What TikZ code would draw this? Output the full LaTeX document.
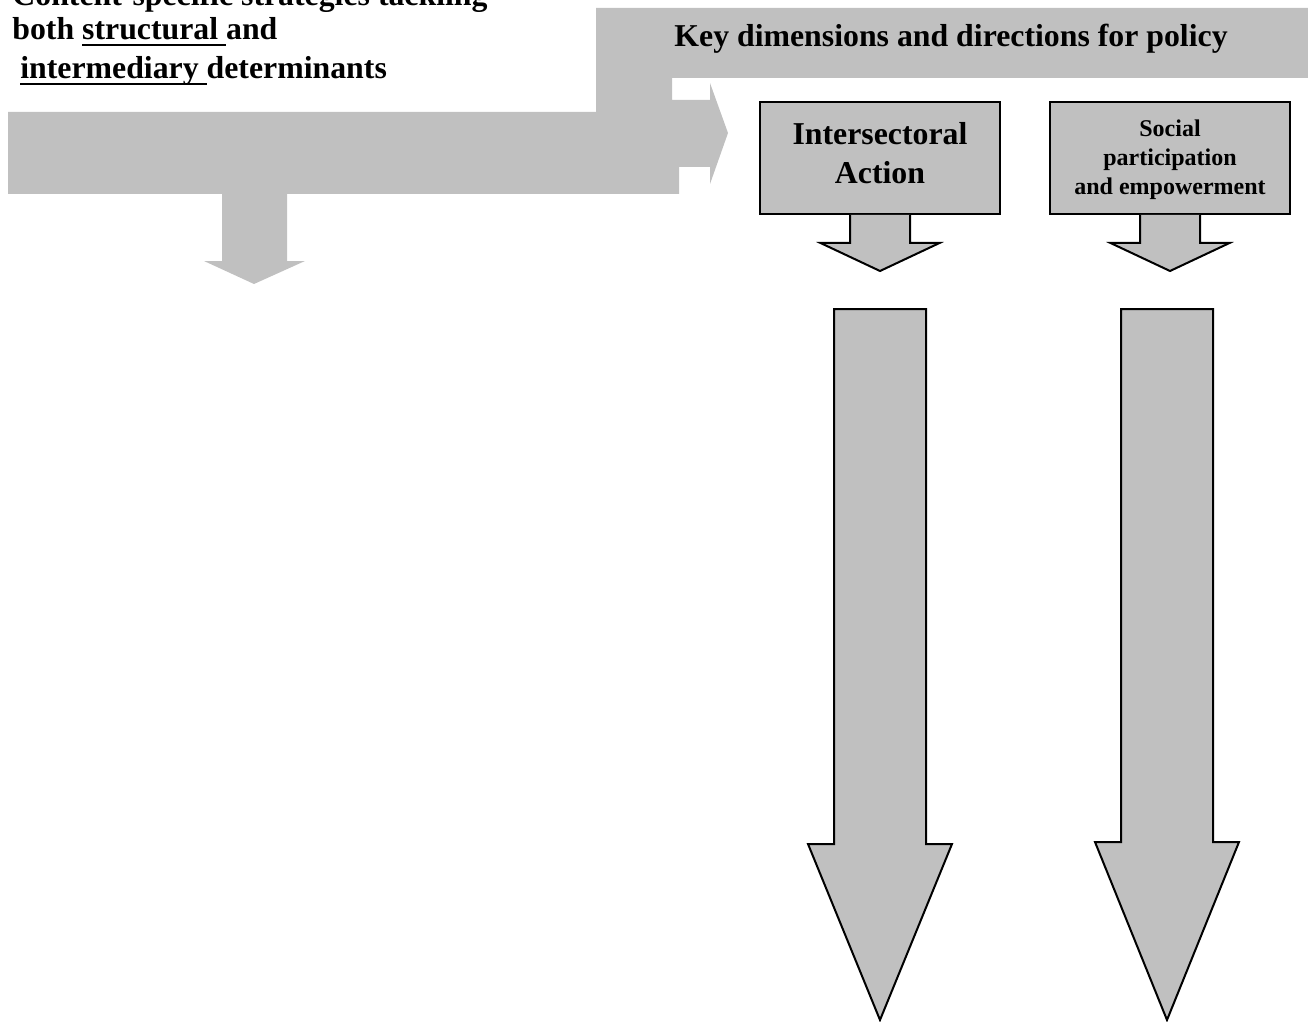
\documentclass[tikz,border=0pt]{standalone}
\usepackage{fontspec}
\setmainfont{Liberation Serif}
\usetikzlibrary{positioning}
\definecolor{panelgray}{RGB}{192,192,192}
\newcommand{\ulword}[1]{\setbox0\hbox{#1}\rlap{\rule[-3.2pt]{\wd0}{1pt}}\box0}
\tikzset{dim box/.style={rectangle,draw,fill=panelgray,line width=1pt,minimum width=120pt,minimum height=56pt,inner sep=0pt},
  big label/.style={font=\fontsize{15.9}{19.5}\selectfont\bfseries,inner sep=0pt,align=center},
  small label/.style={font=\fontsize{12}{14.5}\selectfont\bfseries,inner sep=0pt,align=center},
  down arrow/.style={draw,fill=panelgray,line width=1pt,line join=miter},}

\begin{document}
\begin{tikzpicture}[x=0.5pt,y=-0.5pt]
    \useasboundingbox (0,0) rectangle (1308,1022);
    \clip (0,0) rectangle (1308,1022);

    % grey band, banner and arrows
    \fill[panelgray] (8,112) -- (596,112) -- (596,8) -- (1308,8) -- (1308,78) -- (672,78) -- (672,100) -- (710,100) -- (710,83) -- (728,133) -- (710,184) -- (710,167) -- (679,167) -- (679,194) -- (8,194) -- cycle;
    \fill[panelgray] (222,194) -- (287,194) -- (287,261) -- (305,261) -- (254,284) -- (204,261) -- (222,261) -- cycle;

    \node[big label, anchor=base west] (strat1) at (12,6) {Content-specific strategies tackling};
    \node[big label, anchor=base west] (strat2) at (12,40) {both \ulword{structural\ }and};
    \node[big label, anchor=base west] (strat3) at (12,78.5) {\ \ulword{intermediary\ }determinants};
    \node[big label, anchor=base west] (keydim) at (674,47) {Key dimensions and directions for policy};

    \node[dim box] (inter) at (880,158) {};
    \node[dim box, right=24pt of inter] (partic) {};
    \node[big label] (intertext) at ([yshift=2.5pt]inter.center) {Intersectoral\\Action};
    \node[small label] (partictext) at ([yshift=-1pt]partic.center) {Social\\participation\\and empowerment};

    \foreach \b in {inter,partic}
        \draw[down arrow] ([xshift=-15pt]\b.south) -- ++(0,28) -- ++(-29.5,0) -- ++(59.5,28) -- ++(59.5,-28) -- ++(-29.5,0) -- ++(0,-28);

    \foreach \cx/\hy in {880/844,1167/842}
        \draw[down arrow] (\cx-46,309) -- (\cx+46,309) -- (\cx+46,\hy) -- (\cx+72,\hy) -- (\cx,1020) -- (\cx-72,\hy) -- (\cx-46,\hy) -- cycle;
\end{tikzpicture}
\end{document}
